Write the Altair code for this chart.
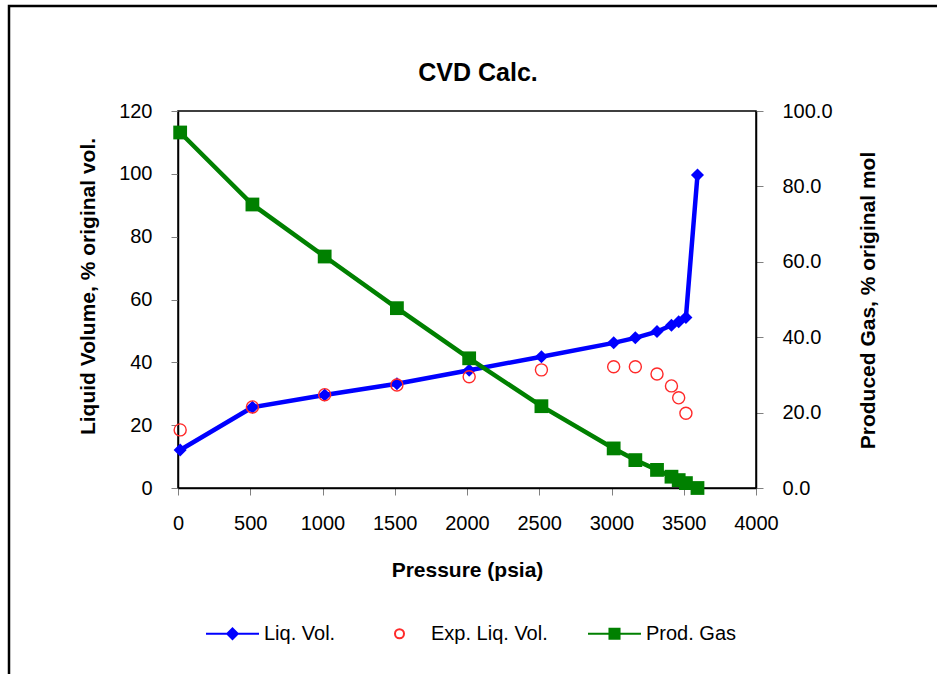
import altair as alt
import pandas as pd

# CVD (constant volume depletion) results vs. pressure
pressure = [15, 515, 1015, 1515, 2015, 2515, 3015, 3165, 3315, 3415, 3465, 3515, 3595]
liq_vol = [12.1, 25.7, 29.6, 33.2, 37.5, 41.8, 46.2, 47.8, 49.8, 51.8, 52.9, 54.3, 99.6]
exp_liq_vol = [18.5, 25.8, 29.7, 32.8, 35.4, 37.6, 38.6, 38.6, 36.3, 32.5, 28.7, 23.8, None]
prod_gas = [94.3, 75.2, 61.4, 47.7, 34.4, 21.7, 10.5, 7.4, 4.8, 3.0, 2.1, 1.3, 0.0]

x_ticks = [0, 500, 1000, 1500, 2000, 2500, 3000, 3500, 4000]
left_ticks = [0, 20, 40, 60, 80, 100, 120]
right_ticks = [0, 20, 40, 60, 80, 100]

series_names = ["Liq. Vol.", "Exp. Liq. Vol.", "Prod. Gas"]
series_colors = ["#0000ff", "#ff2a2a", "#008000"]
series_fills = ["#0000ff", "transparent", "#008000"]
# legend glyphs: line with a marker, an open circle, line with a square
legend_glyphs = [
    "M-1,0H1M0,-0.2L0.2,0L0,0.2L-0.2,0Z",
    "M0.17,0A0.17,0.17 0 1,1 -0.17,0A0.17,0.17 0 1,1 0.17,0Z",
    "M-1,0H1M-0.19,-0.19H0.19V0.19H-0.19Z",
]

df = pd.DataFrame({
    "pressure": pressure,
    "liq": liq_vol,
    "exp": exp_liq_vol,
    "gas": prod_gas,
})

FONT = "Liberation Sans"
W, H = 578, 377

axis_style = dict(
    grid=False,
    domainColor="#000000",
    domainWidth=1.5,
    tickColor="#808080",
    tickSize=7,
    tickWidth=1,
    labelFont=FONT,
    labelFontSize=20,
    labelColor="#000000",
    labelFlush=False,
    titleFont=FONT,
    titleFontSize=21,
    titleFontWeight="bold",
    titleColor="#000000",
)

x_enc = alt.X(
    "pressure:Q",
    scale=alt.Scale(domain=[0, 4000], nice=False),
    axis=alt.Axis(
        values=x_ticks,
        format="d",
        title="Pressure (psia)",
        labelPadding=18,
        titleY=82,
        titleBaseline="middle",
        **axis_style,
    ),
)

left_axis = alt.Axis(
    orient="left",
    values=left_ticks,
    format="d",
    title="Liquid Volume, % original vol.",
    labelPadding=19,
    titleX=-90,
    titleY=175,
    titleAngle=270,
    titleBaseline="middle",
    **axis_style,
)
left_scale = alt.Scale(domain=[0, 120], nice=False)

right_axis = alt.Axis(
    orient="right",
    values=right_ticks,
    format=".1f",
    title="Produced Gas, % original mol",
    labelPadding=19,
    titleX=112,
    titleY=189,
    titleAngle=270,
    titleBaseline="middle",
    **axis_style,
)
right_scale = alt.Scale(domain=[0, 100], nice=False)

base = alt.Chart(df)

liq_line = base.mark_line(color=series_colors[0], strokeWidth=4.5).encode(
    x=x_enc, y=alt.Y("liq:Q", scale=left_scale, axis=left_axis)
)
liq_pts = base.mark_point(shape="diamond", filled=True, size=170, color=series_colors[0], opacity=1).encode(
    x=x_enc, y=alt.Y("liq:Q", scale=left_scale, axis=left_axis)
)
exp_pts = base.mark_point(
    shape="circle", filled=False, size=145, color=series_colors[1], strokeWidth=1.4, opacity=1
).encode(
    x=x_enc, y=alt.Y("exp:Q", scale=left_scale, axis=left_axis)
)
left_group = alt.layer(liq_line, liq_pts, exp_pts)

gas_line = base.mark_line(color=series_colors[2], strokeWidth=4.5).encode(
    x=x_enc, y=alt.Y("gas:Q", scale=right_scale, axis=right_axis)
)
gas_pts = base.mark_point(shape="square", filled=True, size=190, color=series_colors[2], opacity=1).encode(
    x=x_enc, y=alt.Y("gas:Q", scale=right_scale, axis=right_axis)
)
right_group = alt.layer(gas_line, gas_pts)

legend_def = alt.Legend(
    title=None,
    orient="none",
    legendX=27,
    legendY=495,
    direction="horizontal",
    symbolSize=2809,
    symbolStrokeWidth=2,
    symbolOpacity=1,
    labelFont=FONT,
    labelFontSize=20,
    labelColor="#000000",
    labelOffset=4,
    columnPadding=36,
)
legend_layer = (
    alt.Chart(pd.DataFrame({"series": series_names}))
    .transform_filter("false")
    .mark_point(size=2809, opacity=1)
    .encode(
        shape=alt.Shape("series:N", scale=alt.Scale(domain=series_names, range=legend_glyphs), legend=legend_def),
        stroke=alt.Stroke("series:N", scale=alt.Scale(domain=series_names, range=series_colors), legend=legend_def),
        fill=alt.Fill("series:N", scale=alt.Scale(domain=series_names, range=series_fills), legend=legend_def),
    )
)

# outer chart frame (left and top edges visible)
frame = alt.Chart(pd.DataFrame({"k": [0]})).mark_rect(
    fill="transparent", stroke="#000000", strokeWidth=2.5
).encode(
    x=alt.value(-169), x2=alt.value(775), y=alt.value(-105), y2=alt.value(575)
)

chart = (
    alt.layer(left_group, right_group, legend_layer, frame)
    .resolve_scale(y="independent")
    .properties(
        width=W,
        height=H,
        padding={"left": 178, "top": 111, "right": 181, "bottom": 186},
        autosize=alt.AutoSizeParams(type="none"),
        background="#ffffff",
        title=alt.TitleParams(
            "CVD Calc.",
            font=FONT,
            fontSize=25,
            fontWeight="bold",
            color="#000000",
            anchor="middle",
            frame="group",
            offset=0,
            baseline="alphabetic",
            dx=11,
            dy=101,
        ),
    )
    .configure_view(stroke="#000000", strokeWidth=1.5)
)

chart.save("out.html", embed_options={"renderer": "svg", "actions": False})
